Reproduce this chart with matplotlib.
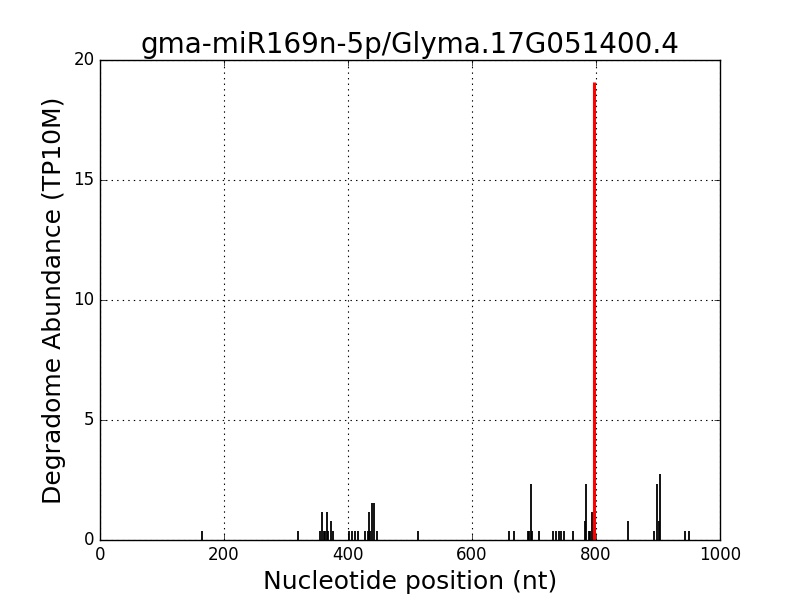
import matplotlib
matplotlib.use("Agg")
import matplotlib.pyplot as plt

plt.style.use('classic')

positions = [165, 320, 355, 358, 361, 363, 366, 368, 372, 375,
             402, 407, 411, 416, 428, 432, 434, 436, 438, 442, 446,
             513, 660, 668, 690, 692, 695, 697, 708,
             731, 735, 740, 744, 748, 763, 782, 784, 788, 791, 794,
             852, 894, 899, 902, 904, 944, 950]
values = [0.39, 0.39, 0.39, 1.17, 0.39, 0.39, 1.17, 0.39, 0.78, 0.39,
          0.39, 0.39, 0.39, 0.39, 0.39, 0.39, 1.17, 0.39, 1.56, 1.56, 0.39,
          0.39, 0.39, 0.39, 0.39, 0.39, 2.34, 0.39, 0.39,
          0.39, 0.39, 0.39, 0.39, 0.39, 0.39, 0.78, 2.34, 0.39, 0.39, 1.17,
          0.78, 0.39, 2.34, 0.78, 2.73, 0.39, 0.39]
target_pos = [797]
target_val = [19.07]

title = "gma-miR169n-5p/Glyma.17G051400.4"

fig = plt.figure(figsize=(8, 6), dpi=100, facecolor='white')
ax = fig.add_axes([0.125, 0.1, 0.775, 0.8])
ax.set_facecolor('white')

ax.vlines(positions, 0, values, colors='black', linewidth=1.3)
ax.vlines(target_pos, 0, target_val, colors='red', linewidth=2.2)

ax.set_xlim(0, 1000)
ax.set_ylim(0, 20)
ax.set_xticks([0, 200, 400, 600, 800, 1000])
ax.set_yticks([0, 5, 10, 15, 20])
ax.grid(True, color='black', linestyle=':', linewidth=0.8)
ax.set_axisbelow(True)
ax.tick_params(labelsize=12)
ax.set_title(title, fontsize=20)
ax.set_xlabel("Nucleotide position (nt)", fontsize=18)
ax.set_ylabel("Degradome Abundance (TP10M)", fontsize=18)

fig.savefig("out.png", dpi=100, facecolor='white')
